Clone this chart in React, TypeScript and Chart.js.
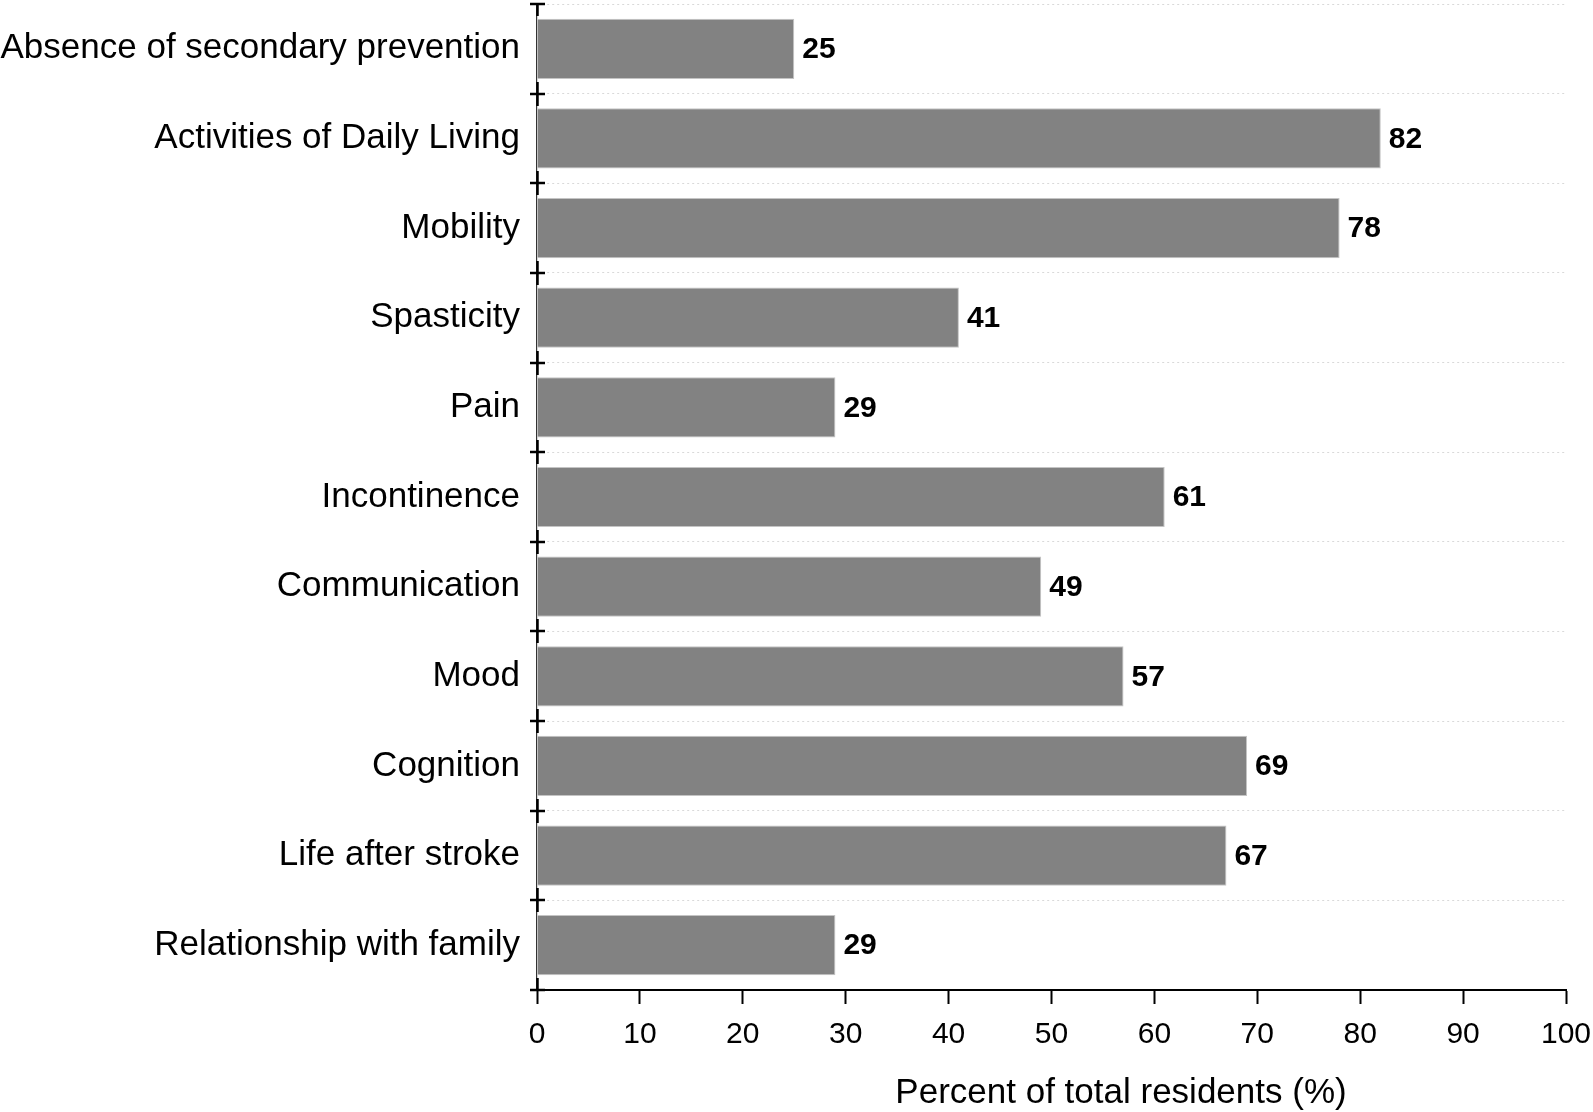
import React, { useEffect, useRef } from "react";
import { Chart, registerables } from "chart.js";

Chart.register(...registerables);

const categories = [
  "Absence of secondary prevention",
  "Activities of Daily Living",
  "Mobility",
  "Spasticity",
  "Pain",
  "Incontinence",
  "Communication",
  "Mood",
  "Cognition",
  "Life after stroke",
  "Relationship with family",
];
const percentValues = [25, 82, 78, 41, 29, 61, 49, 57, 69, 67, 29];
const xAxisTitle = "Percent of total residents (%)";
const xMin = 0;
const xMax = 100;
const xStep = 10;

const FONT = "'Liberation Sans', Arial, Helvetica, sans-serif";
const W = 1593;
const H = 1112;

const valueLabelPlugin = {
  id: "valueLabels",
  afterDatasetsDraw(chart: any) {
    const ctx = chart.ctx;
    const meta = chart.getDatasetMeta(0);
    ctx.save();
    ctx.fillStyle = "#000";
    ctx.font = `bold 30px ${FONT}`;
    ctx.textAlign = "left";
    ctx.textBaseline = "middle";
    meta.data.forEach((bar: any, i: number) => {
      ctx.fillText(String(percentValues[i]), bar.x + 8, bar.y + 1);
    });
    ctx.restore();
  },
};

const axisDecorPlugin = {
  id: "axisDecor",
  afterDraw(chart: any) {
    const ctx = chart.ctx;
    const y = chart.scales.y;
    const x0 = chart.chartArea.left + 0.5;
    const n = categories.length;
    ctx.save();
    ctx.strokeStyle = "#000";
    ctx.lineWidth = 2.5;
    for (let i = 0; i <= n; i++) {
      const yy = Math.round(y.top + (i * (y.bottom - y.top)) / n);
      ctx.beginPath();
      ctx.moveTo(x0 - 7.5, yy);
      ctx.lineTo(x0 + 7.5, yy);
      ctx.stroke();
      ctx.beginPath();
      ctx.moveTo(x0, i === 0 ? yy - 1 : yy - 12);
      ctx.lineTo(x0, i === n ? yy : yy + 12);
      ctx.stroke();
    }
    ctx.fillStyle = "#000";
    ctx.font = `35px ${FONT}`;
    ctx.textAlign = "center";
    ctx.textBaseline = "alphabetic";
    ctx.fillText(xAxisTitle, 1121, 1103);
    ctx.restore();
  },
};

export default function App() {
  const ref = useRef<HTMLCanvasElement | null>(null);
  useEffect(() => {
    if (!ref.current) return;
    const chart = new Chart(ref.current, {
      type: "bar",
      data: {
        labels: categories,
        datasets: [
          {
            data: percentValues,
            backgroundColor: "#828282",
            borderColor: "#c4c4c4",
            borderWidth: 1,
            barPercentage: 0.672,
            categoryPercentage: 1,
          },
        ],
      },
      options: {
        indexAxis: "y",
        animation: false,
        responsive: false,
        devicePixelRatio: 1,
        layout: { padding: { left: 0, right: 27, top: 4, bottom: 0 } },
        plugins: {
          legend: { display: false },
          tooltip: { enabled: false },
          title: { display: false },
        },
        scales: {
          x: {
            type: "linear",
            position: "bottom",
            min: xMin,
            max: xMax,
            ticks: {
              stepSize: xStep,
              color: "#000",
              font: { family: FONT, size: 30 },
              padding: 13,
              maxRotation: 0,
            },
            grid: {
              drawOnChartArea: false,
              drawTicks: true,
              tickLength: 14,
              tickWidth: 2,
              tickColor: "#000",
            },
            border: { display: true, color: "#000", width: 2 },
            afterFit: (scale: any) => {
              scale.height = 122;
              scale.paddingLeft = 0;
              scale.paddingRight = 0;
            },
          },
          y: {
            type: "category",
            position: "left",
            ticks: {
              color: "#000",
              font: { family: FONT, size: 35 },
              padding: 17,
            },
            grid: {
              offset: true,
              drawOnChartArea: true,
              drawTicks: false,
              color: "#d9d9d9",
              lineWidth: 1,
            },
            border: { display: true, color: "#333", width: 1.2, dash: [2, 3] },
            afterFit: (scale: any) => {
              scale.width = 537;
              scale.paddingTop = 0;
              scale.paddingBottom = 0;
            },
          },
        },
      },
      plugins: [valueLabelPlugin, axisDecorPlugin],
    } as any);
    return () => chart.destroy();
  }, []);
  return (
    <div style={{ position: "absolute", left: 0, top: 0, width: W, height: H, background: "#fff" }}>
      <canvas ref={ref} width={W} height={H} />
    </div>
  );
}
